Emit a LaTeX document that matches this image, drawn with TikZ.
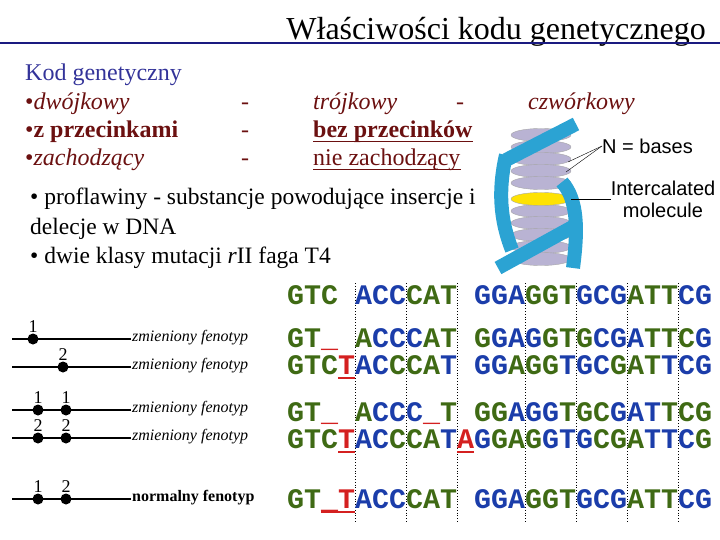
\documentclass[tikz,border=0pt]{standalone}
\usetikzlibrary{shapes.geometric}
\usepackage{fontspec}
\setmainfont{Liberation Serif}
\setsansfont{Liberation Sans}
\setmonofont{Liberation Mono}
\begin{document}
\definecolor{navy}{HTML}{1A1A80}
\definecolor{kod}{HTML}{333399}
\definecolor{mar}{HTML}{6B1010}
\definecolor{so}{HTML}{3F6A14}
\definecolor{sb}{HTML}{1B3DAA}
\definecolor{sr}{HTML}{D42020}
\definecolor{lav}{HTML}{B9B3D3}
\definecolor{strand}{HTML}{2BA3D3}
\begin{tikzpicture}[x=1pt,y=-1pt,
  seq/.style={anchor=base west,inner sep=0pt,font=\fontsize{28.33}{30}\ttfamily\bfseries},
  itm/.style={anchor=base west,inner sep=0pt,font=\fontsize{24}{26}\selectfont,text=mar},
  body/.style={anchor=base west,inner sep=0pt,font=\fontsize{23.5}{26}\selectfont},
  fen/.style={anchor=west,inner sep=0pt,font=\fontsize{16}{18}\selectfont\itshape},
  chr/.style={line width=2.2pt},
  mut/.style={circle,fill=black,inner sep=0pt,minimum size=11pt},
  num/.style={inner sep=0pt,font=\fontsize{18}{18}\selectfont},
  dot/.style={dotted,line width=0.8pt},
  base/.style={ellipse,draw=gray!70,fill=lav,minimum width=60pt,minimum height=13pt,inner sep=0pt},
  rib/.style={strand,line width=14pt},
  lab/.style={inner sep=0pt,font=\fontsize{20}{22}\sffamily}]
\useasboundingbox (0,0) rectangle (720,540);
% title
\node[anchor=base east,inner sep=0pt,font=\fontsize{32}{34}\selectfont] (title) at (706,40) {Właściwości kodu genetycznego};
\draw[navy,line width=1.2pt] (0,43) -- (720,43);
% header list
\node[anchor=base west,inner sep=0pt,font=\fontsize{24}{26}\selectfont,text=kod] (kod) at (25,81) {Kod genetyczny};
\node[itm] (a1) at (25,110) {•\textit{dwójkowy}};
\node[itm] (a2) at (25,138) {•\textbf{z przecinkami}};
\node[itm] (a3) at (25,166) {•\textit{zachodzący}};
\node[itm] (d1) at (241,110) {-};
\node[itm] (d2) at (241,138) {-};
\node[itm] (d3) at (241,166) {-};
\node[itm] (b1) at (313,110) {\textit{trójkowy}};
\node[itm] (d4) at (456,110) {-};
\node[itm] (c1) at (528,110) {\textit{czwórkowy}};
\node[itm] (b2) at (313,138) {\textbf{bez przecinków}};
\node[itm] (b3) at (313,166) {nie zachodzący};
\draw[mar,line width=1pt] ([yshift=-4pt]b2.base west) -- ([yshift=-4pt]b2.base east);
\draw[mar,line width=1pt] ([yshift=-4pt]b3.base west) -- ([yshift=-4pt]b3.base east);
% body
\node[body] (p1) at (30,205) {• proflawiny - substancje powodujące insercje i};
\node[body] (p2) at (30,234) {delecje w DNA};
\node[body] (p3) at (30,263) {• dwie klasy mutacji \textit{r}II faga T4};
% DNA picture
\foreach \yy in {135,147,159,171,183,211,223,235,247,259}{\node[base] at (541,\yy) {};}
\node[base,fill=yellow!85!orange,draw=gray!70] (ic) at (541,199) {};
\draw[rib] (506,160) -- (576,124);
\draw[rib] (506,155) .. controls (498,190) and (500,220) .. (512,250);
\draw[rib] (498,268) -- (578,224);
\draw[rib] (562,182) .. controls (578,200) and (578,230) .. (573,268);
\node[lab,anchor=west] (nb) at (602,146) {N = bases};
\node[lab,align=center] (im) at (663,199) {Intercalated\\molecule};
\coordinate (nb1) at (568,162);
\coordinate (nb2) at (566,172);
\draw[thin] (nb.west) -- (nb1);
\draw[thin] (nb.west) -- (nb2);
\draw[thin] (ic.east) -- (im.west);
% dotted columns
\foreach \k in {4,7,10,14,17,20,23}{\draw[dot] (287+17*\k,283) -- (287+17*\k,522);}
% sequences
\foreach \c/\k/\s in {0/so/GTC,4/sb/ACC,7/so/CAT,11/sb/GGA,14/so/GGT,17/sb/GCG,20/so/ATT,23/sb/CG}
  {\node[seq,text=\k] at (287+17*\c,304) {\s};}
\foreach \c/\k/\s in {0/so/GT,2/sr/\_,4/so/A,5/sb/CCC,8/so/AT,11/so/G,12/sb/GAG,15/so/GTG,18/sb/CGA,21/so/TTC,24/sb/G}
  {\node[seq,text=\k] at (287+17*\c,347) {\s};}
\foreach \c/\k/\s in {0/so/GTC,3/sr/T,4/sb/AC,6/so/CCA,9/sb/T,11/sb/GG,13/so/AGG,16/sb/TGC,19/so/GAT,22/sb/TCG}
  {\node[seq,text=\k] at (287+17*\c,374) {\s};}
\foreach \c/\k/\s in {0/so/GT,2/sr/\_,4/so/A,5/sb/CCC,8/sr/\_,9/so/T,11/so/GG,13/sb/AGG,16/so/TGC,19/sb/GAT,22/so/TCG}
  {\node[seq,text=\k] at (287+17*\c,421) {\s};}
\foreach \c/\k/\s in {0/so/GTC,3/sr/T,4/sb/AC,6/so/CCA,9/sb/T,10/sr/A,11/sb/G,12/so/GAG,15/sb/GTG,18/so/CGA,21/sb/TTC,24/so/G}
  {\node[seq,text=\k] at (287+17*\c,448) {\s};}
\foreach \c/\k/\s in {0/so/GT,2/sr/\_,3/sr/T,4/sb/ACC,7/so/CAT,11/sb/GGA,14/so/GGT,17/sb/GCG,20/so/ATT,23/sb/CG}
  {\node[seq,text=\k] at (287+17*\c,508) {\s};}
\draw[sr,line width=2pt] (287+17*3,378) -- ++(17,0);
\draw[sr,line width=2pt] (287+17*3,452) -- ++(17,0);
\draw[sr,line width=2pt] (287+17*10,452) -- ++(17,0);
\draw[sr,line width=2pt] (287+17*2,512) -- ++(34,0);
% chromosome diagram
\foreach \yy/\nm in {339/r1,367/r2,410/r3,438/r4,499/r5}{\coordinate (\nm a) at (12,\yy); \coordinate (\nm b) at (131,\yy);}
\foreach \nm in {r1,r2,r3,r4,r5}{\draw[chr] (\nm a) -- (\nm b);}
\node[mut] (m1) at (33,339) {}; \node[num,above=1pt] at (m1.north) {1};
\node[mut] (m2) at (63,367) {}; \node[num,above=1pt] at (m2.north) {2};
\node[mut] (m3) at (38,410) {}; \node[num,above=1pt] at (m3.north) {1};
\node[mut] (m4) at (66,410) {}; \node[num,above=1pt] at (m4.north) {1};
\node[mut] (m5) at (38,438) {}; \node[num,above=1pt] at (m5.north) {2};
\node[mut] (m6) at (66,438) {}; \node[num,above=1pt] at (m6.north) {2};
\node[mut] (m7) at (38,499) {}; \node[num,above=1pt] at (m7.north) {1};
\node[mut] (m8) at (66,499) {}; \node[num,above=1pt] at (m8.north) {2};
\node[fen] at (132,338) {zmieniony fenotyp};
\node[fen] at (132,366) {zmieniony fenotyp};
\node[fen] at (132,409) {zmieniony fenotyp};
\node[fen] at (132,437) {zmieniony fenotyp};
\node[fen,font=\fontsize{16}{18}\selectfont\bfseries] at (132,498) {normalny fenotyp};
\end{tikzpicture}
\end{document}
